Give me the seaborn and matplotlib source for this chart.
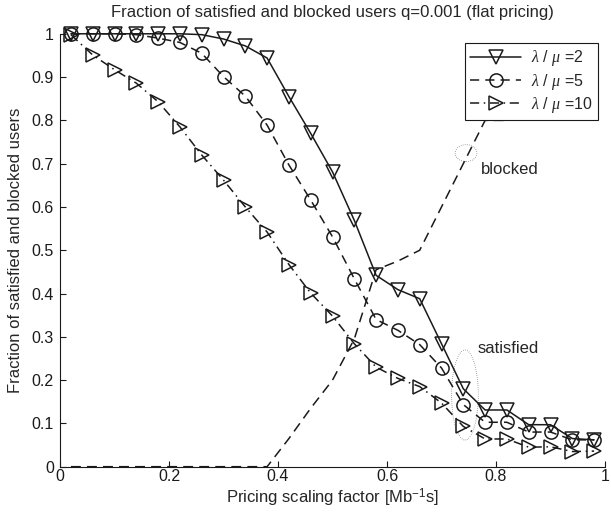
import matplotlib
matplotlib.use("Agg")
import matplotlib.pyplot as plt
from matplotlib.patches import Ellipse
import seaborn as sns

# ---- data ----
price = [0.02, 0.06, 0.10, 0.14, 0.18, 0.22, 0.26, 0.30, 0.34, 0.38, 0.42, 0.46, 0.50,
         0.54, 0.58, 0.62, 0.66, 0.70, 0.74, 0.78, 0.82, 0.86, 0.90, 0.94, 0.98]
sat_2 = [1.0, 1.0, 1.0, 1.0, 1.0, 1.0, 0.998, 0.988, 0.972, 0.944, 0.855, 0.77, 0.681,
         0.569, 0.442, 0.409, 0.388, 0.284, 0.18, 0.131, 0.131, 0.097, 0.097, 0.065, 0.062]
sat_5 = [1.0, 1.0, 1.0, 0.998, 0.99, 0.98, 0.955, 0.901, 0.856, 0.789, 0.697, 0.616, 0.531,
         0.434, 0.34, 0.315, 0.282, 0.228, 0.1435, 0.1026, 0.1026, 0.08, 0.08, 0.062, 0.062]
sat_10 = [0.998, 0.951, 0.917, 0.886, 0.843, 0.785, 0.72, 0.662, 0.60, 0.542, 0.467, 0.401, 0.348,
          0.284, 0.23, 0.204, 0.185, 0.147, 0.093, 0.064, 0.064, 0.045, 0.046, 0.035, 0.036]
blocked = [0.0, 0.0, 0.0, 0.0, 0.0, 0.0, 0.0, 0.0, 0.0, 0.0, 0.065, 0.135, 0.20,
           0.295, 0.455, 0.475, 0.50, 0.60, 0.70, 0.80, 0.80, 0.87, 0.89, 0.90, 0.91]
labels = [r"$\lambda$ / $\mu$ =2", r"$\lambda$ / $\mu$ =5", r"$\lambda$ / $\mu$ =10"]
xticks = [0, 0.2, 0.4, 0.6, 0.8, 1]
xticklabels = ["0", "0.2", "0.4", "0.6", "0.8", "1"]
yticks = [0, 0.1, 0.2, 0.3, 0.4, 0.5, 0.6, 0.7, 0.8, 0.9, 1]
yticklabels = ["0", "0.1", "0.2", "0.3", "0.4", "0.5", "0.6", "0.7", "0.8", "0.9", "1"]

sns.set_theme(style="ticks")
plt.rcParams["font.family"] = ["Liberation Sans", "DejaVu Sans"]
plt.rcParams["mathtext.fontset"] = "custom"
plt.rcParams["mathtext.rm"] = "Liberation Sans"
plt.rcParams["mathtext.it"] = "Liberation Serif:italic"
plt.rcParams["font.size"] = 12

fig = plt.figure(figsize=(6.11, 5.12), dpi=100)
ax = fig.add_axes([0.0982, 0.0885, 0.892, 0.8455])

common = dict(color="k", linewidth=1.1, markersize=9.5, markerfacecolor="none",
              markeredgecolor="k", markeredgewidth=1.1, clip_on=False)

sns.lineplot(x=price, y=sat_2, ax=ax, marker="v", linestyle="-", label=labels[0], **common)
sns.lineplot(x=price, y=sat_5, ax=ax, marker="o", label=labels[1], **common)
sns.lineplot(x=price, y=sat_10, ax=ax, marker=">", label=labels[2], **common)
sns.lineplot(x=price, y=blocked, ax=ax, color="k", linewidth=1.1, legend=False)

lines = ax.get_lines()
lines[1].set_dashes((6, 4))
lines[2].set_dashes((6, 3, 1, 3))
lines[3].set_dashes((6.5, 4))

ax.set_xlim(0, 1)
ax.set_ylim(0, 1)
ax.set_xticks(xticks)
ax.set_xticklabels(xticklabels)
ax.set_yticks(yticks)
ax.set_yticklabels(yticklabels)
ax.tick_params(direction="in", length=4, width=0.8, labelsize=11.5, colors="k")
ax.tick_params(axis="x", pad=1.5)
ax.tick_params(axis="y", pad=4.5)
for s in ["top", "right"]:
    ax.spines[s].set_visible(False)
for s in ["left", "bottom"]:
    ax.spines[s].set_color("k")
    ax.spines[s].set_linewidth(0.8)

ax.set_title("Fraction of satisfied and blocked users q=0.001 (flat pricing)", fontsize=12, pad=12)
ax.set_xlabel(r"Pricing scaling factor [Mb$^{-1}$s]", fontsize=12, labelpad=2)
ax.set_ylabel("Fraction of satisfied and blocked users", fontsize=12, labelpad=6)

leg = ax.legend(loc="upper right", bbox_to_anchor=(0.9875, 0.979), borderaxespad=0,
                fancybox=False, framealpha=1, edgecolor="k", handlelength=3.2,
                handletextpad=0.6, labelspacing=0.2, borderpad=0.35, fontsize=11.5)
leg.get_frame().set_linewidth(0.8)

ax.add_patch(Ellipse((0.745, 0.7245), 0.040, 0.039, fill=False, edgecolor="k",
                     linestyle=(0, (0.5, 2)), linewidth=0.6))
ax.add_patch(Ellipse((0.743, 0.1656), 0.049, 0.208, fill=False, edgecolor="k",
                     linestyle=(0, (0.5, 2)), linewidth=0.6))
ax.text(0.766, 0.272, "satisfied", fontsize=12, va="center", ha="left")
ax.text(0.772, 0.687, "blocked", fontsize=12, va="center", ha="left")

fig.savefig("out.png", dpi=100)
